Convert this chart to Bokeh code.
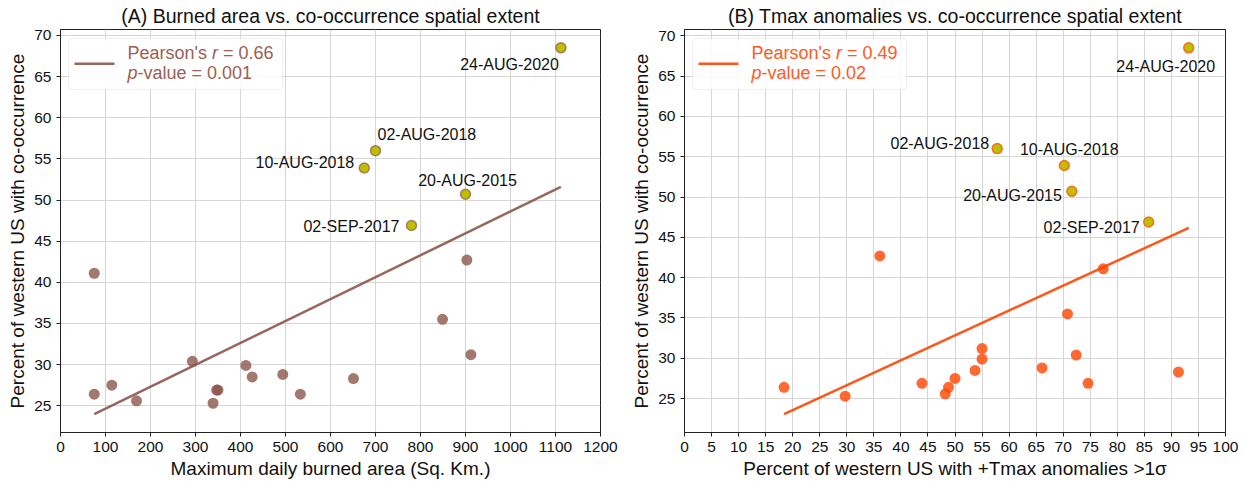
import numpy as np
from bokeh.plotting import figure
from bokeh.layouts import row
from bokeh.models import Range1d, FixedTicker, BoxAnnotation, Label
from bokeh.embed import file_html
from bokeh.resources import INLINE
from bokeh.core.properties import value

# ---------------- data ----------------
cooccur_pct = [41.1, 26.4, 26.4, 27.5, 25.6, 30.4, 25.3, 26.9, 26.9, 29.9,
               28.5, 28.8, 28.3, 35.5, 42.7, 31.2]
burned_area = [75, 75, 533, 114, 169, 293, 339, 347, 350, 412,
               426, 494, 651, 849, 903, 912]
tmax_pct = [77.4, 18.4, 48.8, 50.0, 48.2, 72.4, 29.7, 43.9, 74.6, 55.0,
            53.7, 66.1, 91.3, 70.8, 36.1, 55.0]

event_dates = ["24-AUG-2020", "02-AUG-2018", "10-AUG-2018", "20-AUG-2015", "02-SEP-2017"]
event_cooccur_pct = [68.5, 56.0, 53.9, 50.7, 46.9]
event_burned_area = [1112, 700, 675, 900, 780]
event_tmax_pct = [93.2, 57.8, 70.2, 71.6, 85.8]

x_ticks_burned = list(range(0, 1201, 100))
x_ticks_tmax = list(range(0, 101, 5))
y_ticks = list(range(25, 71, 5))

pearson_r = ["0.66", "0.49"]
p_values = ["0.001", "0.02"]

titles = ["(A) Burned area vs. co-occurrence spatial extent",
          "(B) Tmax anomalies vs. co-occurrence spatial extent"]
x_labels = ["Maximum daily burned area (Sq. Km.)",
            "Percent of western US with +Tmax anomalies >1\u03c3"]
y_label = "Percent of western US with co-occurrence"

# ---------------- style / layout ----------------
FONT = "Liberation Sans"
BROWN = "#8c564b"
ORANGE = "#ff4500"
YELLOW = "#bfbf00"
GRID = "#d6d6d6"
SPINE = "#222222"

# per-event label placement: (align, dx, dy) in screen px
label_place = [
    [("right", -2, 17), ("left", 2, -16), ("right", -10, -5), ("center", 2, -14), ("right", -12, 1)],
    [("center", -23, 19), ("right", -8, -5), ("center", 5, -16), ("right", -10, 4), ("right", -9, 5)],
]


def make_panel(xs, ex, color, legend_color, idx, width, right_border, x_range, x_ticks):
    p = figure(width=width, height=482, output_backend="svg", toolbar_location=None,
               min_border_left=60, min_border_right=right_border,
               min_border_top=29, min_border_bottom=50,
               x_range=Range1d(*x_range))
    all_x = np.array(xs + ex, dtype=float)
    all_y = np.array(cooccur_pct + event_cooccur_pct, dtype=float)
    slope, icpt = np.polyfit(all_x, all_y, 1)
    fx = np.array([all_x.min(), all_x.max()])
    fy = slope * fx + icpt
    lo = min(all_y.min(), fy.min())
    hi = max(all_y.max(), fy.max())
    pad = 0.05 * (hi - lo)
    p.y_range = Range1d(lo - pad, hi + pad)

    p.title.text = titles[idx]
    p.title.align = "center"
    p.title.text_font = FONT
    p.title.text_font_size = "19.5px"
    p.title.text_font_style = "normal"
    p.title.text_color = "#111111"
    p.title.standoff = 5

    p.outline_line_color = SPINE
    p.outline_line_width = 1
    p.background_fill_color = "white"
    p.border_fill_color = "white"

    for ax in (p.xaxis[0], p.yaxis[0]):
        ax.axis_line_color = SPINE
        ax.major_tick_line_color = SPINE
        ax.major_tick_in = 0
        ax.major_tick_out = 4
        ax.minor_tick_line_color = None
        ax.major_label_text_font = FONT
        ax.major_label_text_font_size = "15.5px"
        ax.major_label_text_color = "#111111"
        ax.axis_label_text_font = FONT
        ax.axis_label_text_font_size = "19px"
        ax.axis_label_text_font_style = "normal"
        ax.axis_label_text_color = "#111111"
        ax.axis_label_standoff = 3
    p.xaxis[0].major_label_standoff = 5
    p.yaxis[0].major_label_standoff = 5
    p.xaxis[0].ticker = FixedTicker(ticks=x_ticks)
    p.yaxis[0].ticker = FixedTicker(ticks=y_ticks)
    p.xaxis[0].axis_label = x_labels[idx]
    p.yaxis[0].axis_label = y_label

    p.xgrid.grid_line_color = GRID
    p.ygrid.grid_line_color = GRID
    p.xgrid.ticker = FixedTicker(ticks=x_ticks)
    p.ygrid.ticker = FixedTicker(ticks=y_ticks)

    p.line(fx, fy, line_color=color, line_width=2.5, line_alpha=0.9)
    p.scatter(xs, cooccur_pct, size=11, fill_color=color, fill_alpha=0.8, line_color=None)
    p.scatter(ex, event_cooccur_pct, size=10, fill_color=YELLOW, line_color=color,
              line_alpha=0.7, line_width=1.5)

    for i, lab in enumerate(event_dates):
        align, dx, dy = label_place[idx][i]
        p.text([ex[i]], [event_cooccur_pct[i]], text=[lab], text_align=align,
               text_baseline="middle", x_offset=dx, y_offset=dy,
               text_font=value(FONT), text_font_size="16px", text_color="#111111")

    fh = 403
    # legend (frame-relative screen units, y upward)
    box = BoxAnnotation(left=8, right=222, top=fh - 9, bottom=fh - 60,
                        left_units="screen", right_units="screen",
                        top_units="screen", bottom_units="screen",
                        fill_color="white", fill_alpha=0.85,
                        line_color="#cccccc", line_width=1, border_radius=4)
    p.add_layout(box)
    sample = BoxAnnotation(left=14, right=54, top=fh - 33.1, bottom=fh - 35.6,
                           left_units="screen", right_units="screen",
                           top_units="screen", bottom_units="screen",
                           fill_color=color, fill_alpha=0.9, line_color=None)
    p.add_layout(sample)
    fs = 18
    tx = 67
    y1 = fh - 23.5
    y2 = fh - 43
    w_pearson = 4.693 * fs
    w_r = 0.333 * fs
    w_sp = 0.278 * fs
    w_p = 0.556 * fs
    pieces = [
        (tx, y1, "Pearson's", "normal"),
        (tx + w_pearson, y1, "r", "italic"),
        (tx + w_pearson + w_r + w_sp, y1, "= " + pearson_r[idx], "normal"),
        (tx, y2, "p", "italic"),
        (tx + w_p, y2, "-value = " + p_values[idx], "normal"),
    ]
    for (px, py, t, st) in pieces:
        p.add_layout(Label(x=px, y=py, x_units="screen", y_units="screen", text=t,
                           text_font=FONT, text_font_size=f"{fs}px", text_font_style=st,
                           text_color=legend_color, text_baseline="middle", text_align="left"))
    return p


p1 = make_panel(burned_area, event_burned_area, BROWN, "#9a6154", 0, 624, 24,
                (0, 1200), x_ticks_burned)
p2 = make_panel(tmax_pct, event_tmax_pct, ORANGE, "#ff5a1f", 1, 623, 22,
                (0, 100), x_ticks_tmax)

layout = row(p1, p2)
open("out.html", "w").write(file_html(layout, INLINE))
